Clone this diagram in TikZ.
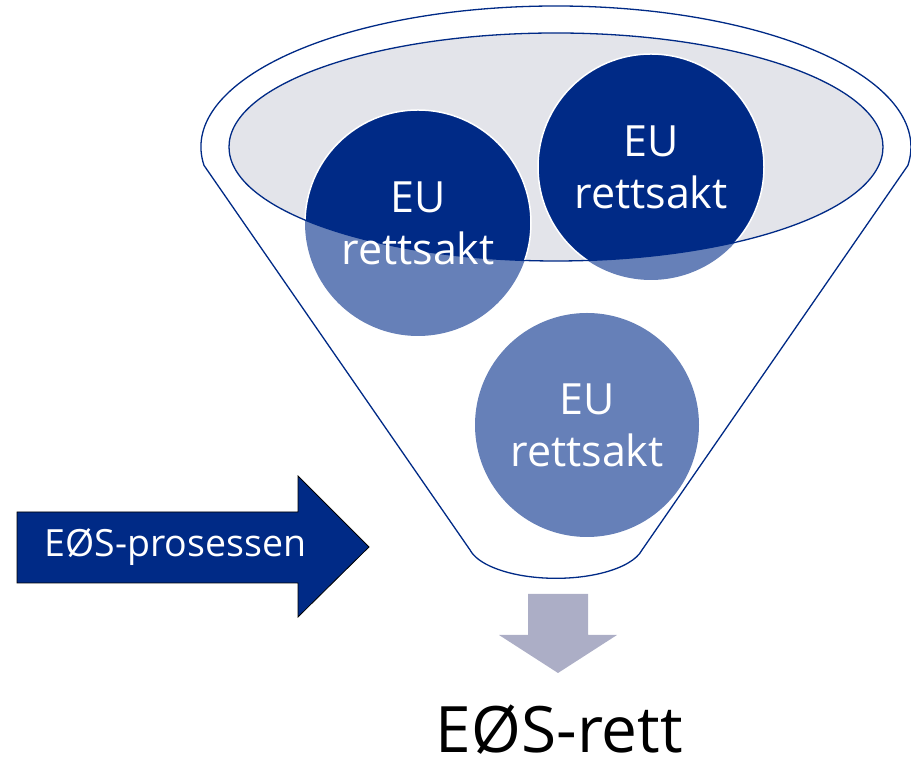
\documentclass[tikz,border=0pt]{standalone}
\usepackage{fontspec}
\setmainfont{Open Sans}
\definecolor{navy}{HTML}{002A86}
\definecolor{lightnavy}{HTML}{6680B8}
\definecolor{bowlgray}{HTML}{E3E4EA}
\definecolor{arrowgray}{HTML}{ACAEC6}
\tikzset{
  funnelline/.style={draw=navy, line width=1.3pt, fill=white},
  ctext/.style={text=white, align=center, inner sep=0pt, font=\fontsize{43}{52}\selectfont},
}
\begin{document}
\begin{tikzpicture}[x=1pt,y=1pt]
\useasboundingbox (0,0) rectangle (911,759);
% funnel outline
\draw[funnelline] (204,593.6) arc[start angle=187.5, end angle=-7.5, x radius=355, y radius=141]
  -- (642,209) arc[start angle=-12.3, end angle=-167.7, x radius=88, y radius=36] -- cycle;
% light circles
\fill[lightnavy] (418,536) circle[radius=113];
\fill[lightnavy] (651,592) circle[radius=113];
\fill[lightnavy] (587,334) circle[radius=112];
% bowl
\begin{scope}
  \clip (556,612) ellipse[x radius=327, y radius=114];
  \fill[bowlgray] (556,612) ellipse[x radius=327, y radius=114];
  \filldraw[fill=navy, draw=white, line width=1.5pt] (418,536) circle[radius=113];
  \filldraw[fill=navy, draw=white, line width=1.5pt] (651,592) circle[radius=113];
\end{scope}
\draw[navy, line width=1.3pt] (556,612) ellipse[x radius=327, y radius=114];
% circle texts
\node[ctext] (c1) at (418,536) {EU\\rettsakt};
\node[ctext] (c2) at (651,592) {EU\\rettsakt};
\node[ctext] (c3) at (587,334) {EU\\rettsakt};
% process arrow
\filldraw[fill=navy, draw=black, line width=0.8pt] (17,247) -- (298,247) -- (298,283) -- (369,212)
  -- (298,142) -- (298,176) -- (17,176) -- cycle;
\node[text=white, inner sep=0pt, font=\fontsize{37.5}{44}\selectfont, anchor=base] (proc) at (175.5,202) {EØS-prosessen};
% down arrow
\fill[arrowgray] (528,165) -- (588,165) -- (588,124) -- (617,124) -- (558,86) -- (499,124) -- (528,124) -- cycle;
% result
\node[text=black, inner sep=0pt, font=\fontsize{64}{72}\selectfont, anchor=base] (res) at (559.5,6) {EØS-rett};
\end{tikzpicture}
\end{document}
